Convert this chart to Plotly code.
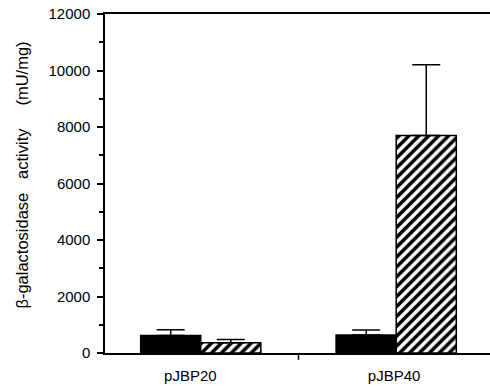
import plotly.graph_objects as go

categories = ["pJBP20", "pJBP40"]
category_labels = ["pJBP20\u00a0\u00a0\u00a0\u00a0\u00a0", "pJBP40\u00a0"]
solid_values = [620, 640]
solid_errors = [200, 170]
hatched_values = [360, 7700]
hatched_errors = [120, 2500]
y_ticks = [0, 2000, 4000, 6000, 8000, 10000, 12000]
y_tick_labels = ["0", "2000", "4000", "6000", "8000", "10000", "12000"]
y_minor_ticks = [1000, 3000, 5000, 7000, 9000, 11000]

fig = go.Figure()
fig.add_trace(go.Bar(
    x=categories, y=solid_values,
    marker=dict(color="black", line=dict(color="black", width=1.5)),
    error_y=dict(type="data", array=solid_errors, arrayminus=[0, 0], symmetric=False,
                 color="black", thickness=1.5, width=14),
    showlegend=False,
))
fig.add_trace(go.Bar(
    x=categories, y=hatched_values,
    marker=dict(color="white", line=dict(color="black", width=1.5),
                pattern=dict(shape="/", fgcolor="black", bgcolor="white", size=7,
                             solidity=0.5, fgopacity=1)),
    error_y=dict(type="data", array=hatched_errors, arrayminus=[0, 0], symmetric=False,
                 color="black", thickness=1.5, width=14),
    showlegend=False,
))

fig.update_layout(
    width=490, height=387,
    margin=dict(l=105, r=0, t=14, b=34),
    paper_bgcolor="white", plot_bgcolor="white",
    barmode="group", bargap=0.385, bargroupgap=0,
    font=dict(family="Liberation Sans, Arial, sans-serif", size=15, color="black"),
    xaxis=dict(range=[-0.49, 1.48], showline=True, linecolor="black", linewidth=2,
               mirror=True, ticks="", showgrid=False, zeroline=False,
               tickvals=categories, ticktext=category_labels,
               ticklabelstandoff=8, tickfont=dict(size=15)),
    yaxis=dict(range=[0, 12000], tickvals=y_ticks, ticktext=y_tick_labels,
               ticks="outside", ticklen=6, ticklabelstandoff=4,
               tickwidth=1.5, tickcolor="black", showline=True, linecolor="black",
               linewidth=1.5, showgrid=False, zeroline=False,
               minor=dict(tickvals=y_minor_ticks,
                          ticks="outside", ticklen=4, tickcolor="black", tickwidth=1.5),
               tickfont=dict(size=15)),
    annotations=[dict(
        text="β-galactosidase\u00a0\u00a0\u00a0activity\u00a0\u00a0\u00a0\u00a0\u00a0(mU/mg)",
        textangle=-90,
        xref="paper", yref="paper", x=-0.215, y=0.524, showarrow=False,
        font=dict(size=16.5), xanchor="center", yanchor="middle",
    )],
    shapes=[dict(type="line", xref="x", yref="paper", x0=0.5, x1=0.5, y0=0, y1=-0.02,
                 line=dict(color="black", width=1.5))],
)

fig.write_html("out.html", config={"displayModeBar": False},
               post_script="document.body.style.margin='0';document.body.style.overflow='hidden';")
